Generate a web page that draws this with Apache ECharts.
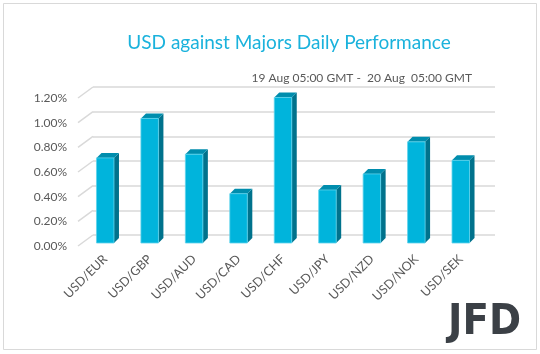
<!DOCTYPE html>
<html><head><meta charset="utf-8">
<script src="https://cdn.jsdelivr.net/npm/echarts@6/dist/echarts.min.js"></script>
<style>html,body{margin:0;padding:0;background:#fff}#c{width:540px;height:354px}</style>
</head><body><div id="c"></div>
<script>
const categories = ['USD/EUR','USD/GBP','USD/AUD','USD/CAD','USD/CHF','USD/JPY','USD/NZD','USD/NOK','USD/SEK'];
const values = [0.69, 1.01, 0.72, 0.40, 1.18, 0.43, 0.56, 0.82, 0.67];
const yTicks = [0, 0.2, 0.4, 0.6, 0.8, 1.0, 1.2];

const FONT = 'Lato';
const chart = echarts.init(document.getElementById('c'), null, {renderer:'canvas'});
const DEPTH = 5, BW = 17.5;
chart.setOption({
  animation:false,
  backgroundColor:'#fff',
  title:[{
    text:'USD against Majors Daily Performance', left:284, top:28, textAlign:'center',
    textStyle:{color:'#1AB2DC', fontFamily:FONT, fontSize:19, fontWeight:'normal'}
  },{
    text:'19 Aug 05:00 GMT -  20 Aug  05:00 GMT', right:63, top:67,
    textStyle:{color:'#595959', fontFamily:FONT, fontSize:12, fontWeight:'normal'}
  }],
  graphic:[
    {type:'rect', shape:{x:3.5,y:3.5,width:533,height:346}, style:{fill:'none', stroke:'#d9d9d9', lineWidth:1}},
    {type:'text', right:19, bottom:10, style:{text:'JFD', fill:'#3b4046', font:'bold 43px "DejaVu Sans Condensed"'}}
  ],
  grid:[
    {left:93, right:45, top:87, height:148},
    {left:83, width:400, top:95, height:148},
    {left:78, width:400, top:98, height:148}
  ],
  xAxis:[
    {gridIndex:0, type:'category', data:categories, show:false},
    {gridIndex:1, type:'category', data:categories,
      axisLine:{show:false}, axisTick:{show:false},
      axisLabel:{rotate:45, interval:0, color:'#595959', fontFamily:FONT, fontSize:12.5, margin:14}},
    {gridIndex:2, type:'category', data:categories, show:false}
  ],
  yAxis:[
    {gridIndex:0, type:'value', min:0, max:1.2, interval:0.2, axisLabel:{show:false}, axisLine:{show:false}, axisTick:{show:false},
      splitLine:{lineStyle:{color:'#d9d9d9', width:1.5}}},
    {gridIndex:1, type:'value', min:0, max:1.2, interval:0.2, show:false, splitLine:{show:false}},
    {gridIndex:2, type:'value', min:0, max:1.2, interval:0.2, axisLine:{show:false}, axisTick:{show:false}, splitLine:{show:false},
      axisLabel:{color:'#595959', fontFamily:FONT, fontSize:12, margin:11, formatter:v=>v.toFixed(2)+'%'}}
  ],
  series:[
    {type:'custom', xAxisIndex:0, yAxisIndex:0, data:yTicks.map(v=>[0,v]), silent:true,
      renderItem:(params, api)=>{
        const y = api.coord([0, api.value(1)])[1];
        const x = params.coordSys.x;
        return {type:'line', shape:{x1:x-15, y1:y+11, x2:x, y2:y}, style:{stroke:'#d9d9d9', lineWidth:1.5}};
      }},
    {type:'custom', xAxisIndex:1, yAxisIndex:1, data:values.map((v,i)=>[i,v]),
      renderItem:(params, api)=>{
        const i = api.value(0), v = api.value(1);
        const p0 = api.coord([i, 0]), p1 = api.coord([i, v]);
        const x0 = p0[0] - BW/2, yb = p0[1], yt = p1[1], d = DEPTH;
        return {type:'group', children:[
          {type:'polygon', shape:{points:[[x0+BW,yt],[x0+BW+d,yt-d],[x0+BW+d,yb-d],[x0+BW,yb]]}, style:{fill:'#00728C'}},
          {type:'polygon', shape:{points:[[x0,yt],[x0+d,yt-d],[x0+BW+d,yt-d],[x0+BW,yt]]}, style:{fill:'#008DAD'}},
          {type:'rect', shape:{x:x0, y:yt, width:BW, height:yb-yt}, style:{fill:'#00B4DC', stroke:'#5FD3EC', lineWidth:0.8}}
        ]};
      }}
  ]
});
</script></body></html>
